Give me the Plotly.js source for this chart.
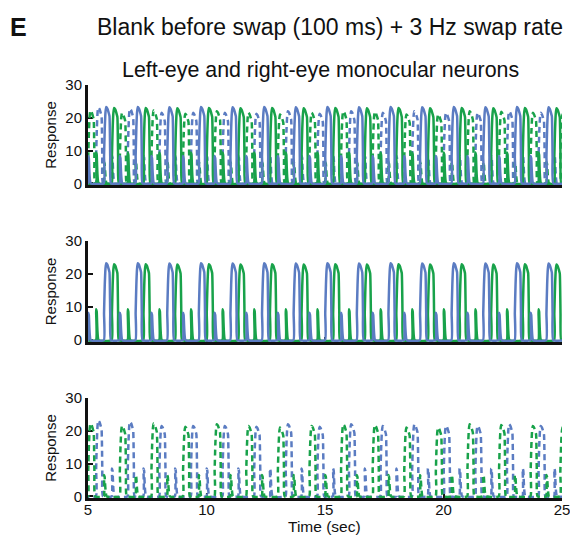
<!DOCTYPE html>
<html><head><meta charset="utf-8">
<script src="https://cdn.plot.ly/plotly-3.0.1.min.js"></script>
<style>html,body{margin:0;padding:0;background:#fff;} #chart{width:570px;height:537px;}</style>
</head><body><div id="chart"></div>
<script>
const BLUE = '#5b7cc2', GREEN = '#18a24a';
const FONT = 'Liberation Sans, Arial, Helvetica, sans-serif';
const xTicks = [5, 10, 15, 20, 25];
const yTicks = [0, 10, 20, 30];

// Onset times (s) of responses
const blueSolidBigOn   = [5.667,7.0,8.333,9.667,11.0,12.333,13.667,15.0,16.333,17.667,19.0,20.333,21.667,23.0,24.333];
const greenSolidBigOn  = [6.0,7.333,8.667,10.0,11.333,12.667,14.0,15.333,16.667,18.0,19.333,20.667,22.0,23.333,24.667];
const blueSolidSmallOn = [5.0,6.333,7.667,9.0,10.333,11.667,13.0,14.333,15.667,17.0,18.333,19.667,21.0,22.333,23.667];
const greenSolidSmallOn= [5.333,6.667,8.0,9.333,10.667,12.0,13.333,14.667,16.0,17.333,18.667,20.0,21.333,22.667,24.0];
const greenDashBigOn   = [5.0,6.333,7.667,9.0,10.333,11.667,13.0,14.333,15.667,17.0,18.333,19.667,21.0,22.333,23.667,24.92];
const blueDashBigOn    = [5.333,6.667,8.0,9.333,10.667,12.0,13.333,14.667,16.0,17.333,18.667,20.0,21.333,22.667,24.0];
const greenDashSmallOn = [5.667,7.0,8.333,9.667,11.0,12.333,13.667,15.0,16.333,17.667,19.0,20.333,21.667,23.0,24.333];
const blueDashSmallOn  = [6.0,7.333,8.667,10.0,11.333,12.667,14.0,15.333,16.667,18.0,19.333,20.667,22.0,23.333,24.667];

// Peak heights (response units)
const blueSolidBigH   = [23.3,23.3,23.2,23.3,23.2,23.3,23.2,23.3,23.2,23.3,23.2,23.3,23.2,23.3,23.2];
const greenSolidBigH  = [23.0,23.0,22.9,23.0,22.9,23.0,22.9,23.0,22.9,23.0,22.9,23.0,22.9,23.0,22.9];
const blueSolidSmallH = [8.3,8.3,8.3,8.3,8.3,8.3,8.3,8.3,8.3,8.3,8.3,8.3,8.3,8.3,8.3];
const greenSolidSmallH= [9.4,9.4,9.4,9.4,9.4,9.4,9.4,9.4,9.4,9.4,9.4,9.4,9.4,9.4,9.4];
const greenDashBigH   = [22.2,21.5,22.2,21.2,22.0,21.5,21.0,21.5,22.0,21.8,21.0,21.0,22.0,21.8,21.5,21.0];
const blueDashBigH    = [23.2,22.8,21.5,21.5,21.5,21.2,22.0,21.2,22.0,21.5,22.0,21.5,21.5,22.0,21.5];
const greenDashSmallH = [6.5,6.5,6.5,6.5,6.5,6.5,6.5,6.5,6.5,6.5,6.5,6.5,6.5,6.5,6.5];
const blueDashSmallH  = [8.5,8.5,8.5,8.5,8.5,8.5,8.5,8.5,8.5,8.5,8.5,8.5,8.5,8.5,8.5];

// Response shapes (time after onset in s, fraction of peak height)
const bigShapeT   = [0, 0.01, 0.04, 0.07, 0.10, 0.15, 0.20, 0.24, 0.27, 0.30];
const bigShapeF   = [0, 0.35, 0.72, 0.93, 1.00, 0.98, 0.93, 0.88, 0.35, 0];
const smallShapeT = [0, 0.008, 0.035, 0.12];
const smallShapeF = [0, 1, 0.92, 0];

function build(groups) {
  const ev = [];
  groups.forEach(g => g.on.forEach((o, i) => ev.push({o: o, h: g.h[i], T: g.T, F: g.F})));
  ev.sort((a, b) => a.o - b.o);
  const x = [4.8], y = [0];
  ev.forEach(e => e.T.forEach((dt, j) => { x.push(e.o + dt); y.push(e.h * e.F[j]); }));
  x.push(25.2); y.push(0);
  return {x: x, y: y};
}

const blueSolid = build([{on: blueSolidBigOn, h: blueSolidBigH, T: bigShapeT, F: bigShapeF},
                         {on: blueSolidSmallOn, h: blueSolidSmallH, T: smallShapeT, F: smallShapeF}]);
const greenSolid = build([{on: greenSolidBigOn, h: greenSolidBigH, T: bigShapeT, F: bigShapeF},
                          {on: greenSolidSmallOn, h: greenSolidSmallH, T: smallShapeT, F: smallShapeF}]);
const blueDash = build([{on: blueDashBigOn, h: blueDashBigH, T: bigShapeT, F: bigShapeF},
                        {on: blueDashSmallOn, h: blueDashSmallH, T: smallShapeT, F: smallShapeF}]);
const greenDash = build([{on: greenDashBigOn, h: greenDashBigH, T: bigShapeT, F: bigShapeF},
                         {on: greenDashSmallOn, h: greenDashSmallH, T: smallShapeT, F: smallShapeF}]);

function tr(d, color, dash, xa, ya) {
  return {x: d.x, y: d.y, xaxis: xa, yaxis: ya, type: 'scatter', mode: 'lines', hoverinfo: 'skip',
          line: {color: color, width: 2.5, dash: dash ? '6px,4px' : 'solid', shape: 'spline', smoothing: 0.4},
          showlegend: false};
}

const data = [
  tr(blueDash, BLUE, true, 'x', 'y'),
  tr(greenDash, GREEN, true, 'x', 'y'),
  tr(greenSolid, GREEN, false, 'x', 'y'),
  tr(blueSolid, BLUE, false, 'x', 'y'),
  tr(greenSolid, GREEN, false, 'x2', 'y2'),
  tr(blueSolid, BLUE, false, 'x2', 'y2'),
  tr(blueDash, BLUE, true, 'x3', 'y3'),
  tr(greenDash, GREEN, true, 'x3', 'y3')
];

const axCommon = {showgrid: false, zeroline: false, showline: true, linecolor: '#111', linewidth: 3,
  ticks: 'inside', tickcolor: '#111', tickwidth: 2, ticklen: 5, ticklabeloverflow: 'allow',
  tickfont: {family: FONT, size: 15, color: '#111'}, layer: 'below traces'};

function xax(anchor, labels) {
  return Object.assign({}, axCommon, {range: [5, 25], tickvals: xTicks, ticktext: xTicks.map(String),
    showticklabels: labels, anchor: anchor, domain: [0, 1], ticklabelstandoff: -4});
}
function yax(anchor, dom) {
  return Object.assign({}, axCommon, {range: [-0.5, 30], tickvals: yTicks, anchor: anchor, domain: dom,
    title: {text: 'Response', font: {family: FONT, size: 15, color: '#111'}, standoff: 6}});
}

const layout = {
  width: 570, height: 537,
  margin: {l: 88, r: 8, t: 85, b: 39},
  paper_bgcolor: '#fff', plot_bgcolor: '#fff',
  xaxis: xax('y', false), yaxis: yax('x', [0.758, 1.0]),
  xaxis2: xax('y2', false), yaxis2: yax('x2', [0.378, 0.6223]),
  xaxis3: xax('y3', true), yaxis3: yax('x3', [-0.004, 0.2421]),
  annotations: [
    {text: '<b>E</b>', xref: 'paper', yref: 'paper', x: -0.1456, y: 1.1404, showarrow: false,
     font: {family: FONT, size: 25, color: '#111'}, xanchor: 'center', yanchor: 'middle'},
    {text: 'Blank before swap (100 ms) + 3 Hz swap rate', xref: 'paper', yref: 'paper', x: 0.5095, y: 1.1404,
     showarrow: false, font: {family: FONT, size: 23, color: '#111'}, xanchor: 'center', yanchor: 'middle'},
    {text: 'Left-eye and right-eye monocular neurons', xref: 'paper', yref: 'paper', x: 0.4895, y: 1.0363,
     showarrow: false, font: {family: FONT, size: 21.4, color: '#111'}, xanchor: 'center', yanchor: 'middle'},
    {text: 'Time (sec)', xref: 'paper', yref: 'paper', x: 0.498, y: -0.0702, showarrow: false,
     font: {family: FONT, size: 15.5, color: '#111'}, xanchor: 'center', yanchor: 'middle'}
  ]
};

Plotly.newPlot('chart', data, layout, {displayModeBar: false, staticPlot: true});
</script></body></html>
